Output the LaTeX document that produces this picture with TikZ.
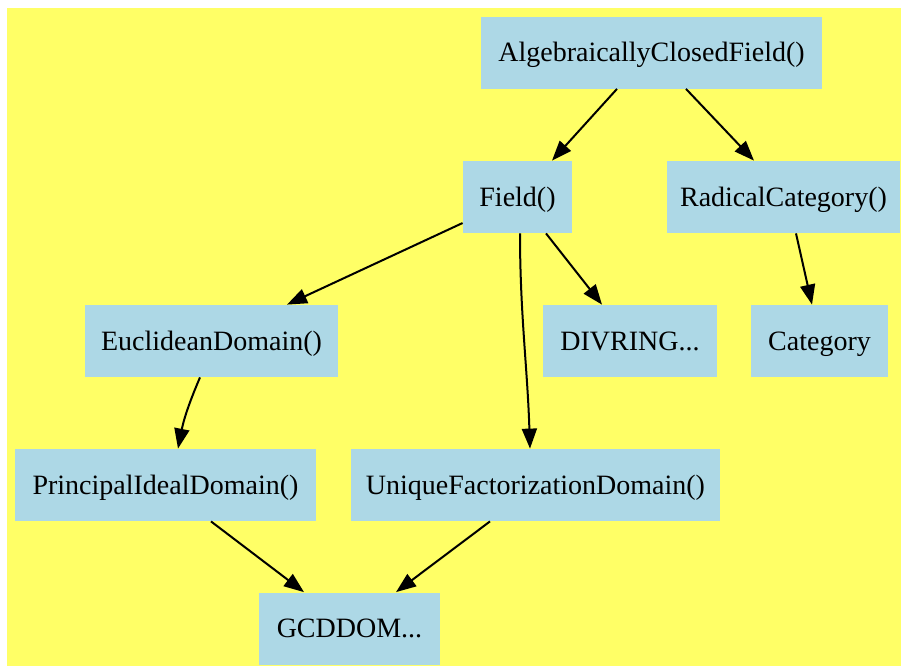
\documentclass[tikz,border=0pt]{standalone}
\usepackage{fontspec}
\setmainfont{Liberation Serif}
\usetikzlibrary{arrows.meta,calc}
\definecolor{bgyellow}{HTML}{FFFF66}
\definecolor{boxblue}{HTML}{ADD8E6}
\tikzset{
  box/.style={fill=boxblue, draw=none, inner sep=0pt, minimum height=36pt,
    text height=9.5pt, text depth=0.5pt,
    font=\fontsize{14pt}{16pt}\selectfont, text=black},
  edge/.style={draw=black, line width=1pt, -{Triangle[length=10pt,width=7.5pt]}, shorten >=0pt}
}
\begin{document}
\begin{tikzpicture}[x=0.5pt,y=-0.5pt]
\useasboundingbox (0,0) rectangle (901,666);
\fill[bgyellow] (7,8) rectangle (901,666);
\node[box, minimum width=170.5pt] (acf) at (651.5,52.5) {AlgebraicallyClosedField()};
\node[box, minimum width=54.5pt] (field) at (517.5,197) {Field()};
\node[box, minimum width=116.5pt] (rad) at (783.5,197) {RadicalCategory()};
\node[box, minimum width=126.5pt] (euc) at (211.5,341) {EuclideanDomain()};
\node[box, minimum width=87pt] (div) at (630,341) {DIVRING...};
\node[box, minimum width=68.5pt] (cat) at (819.5,341) {Category};
\node[box, minimum width=150.5pt] (pid) at (165.5,485) {PrincipalIdealDomain()};
\node[box, minimum width=184.5pt] (ufd) at (535.5,485) {UniqueFactorizationDomain()};
\node[box, minimum width=90.5pt] (gcd) at (349.5,628.5) {GCDDOM...};

\draw[edge] ($(acf.south)+(-34.5,0)$) -- ($(field.north)+(34.5,0)$);
\draw[edge] ($(acf.south)+(34.5,0)$) -- ($(rad.north)+(-29.5,0)$);
\draw[edge] ($(field.west)+(0,26)$) -- ($(euc.north)+(75.5,0)$);
\draw[edge] ($(field.south)+(2.5,0)$) .. controls ($(field.south)+(2.5,80)$) and ($(ufd.north)+(-8,-80)$) .. ($(ufd.north)+(-5.5,0)$);
\draw[edge] ($(field.south)+(28.5,0)$) -- ($(div.north)+(-28,0)$);
\draw[edge] ($(rad.south)+(12.5,0)$) -- ($(cat.north)+(-7.5,0)$);
\draw[edge] ($(euc.south)+(-11.5,0)$) to[bend right=6] ($(pid.north)+(12.5,0)$);
\draw[edge] ($(pid.south)+(45.5,0)$) -- ($(gcd.north)+(-45.5,0)$);
\draw[edge] ($(ufd.south)+(-45.5,0)$) -- ($(gcd.north)+(46.5,0)$);
\end{tikzpicture}
\end{document}
